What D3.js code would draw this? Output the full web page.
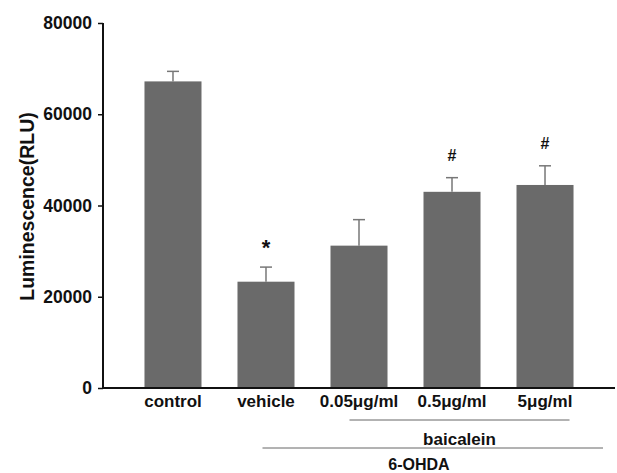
<!DOCTYPE html>
<html>
<head>
<meta charset="utf-8">
<script src="https://cdn.jsdelivr.net/npm/d3@7"></script>
<style>
  body { margin: 0; background: #fff; }
  text { font-family: "Liberation Sans", Arial, sans-serif; font-weight: bold; fill: #111; }
</style>
</head>
<body>
<div id="chart"></div>
<script>
// Data
var categories = ["control", "vehicle", "0.05\u03bcg/ml", "0.5\u03bcg/ml", "5\u03bcg/ml"];
var means = [67200, 23300, 31200, 43000, 44500];
var errors = [2200, 3200, 5700, 3100, 4200];
var marks = ["", "*", "", "#", "#"];
var yTicks = [0, 20000, 40000, 60000, 80000];

// Margin conventions
var margin = {top: 23, right: 2, bottom: 85, left: 103};
var totalWidth = 617, totalHeight = 473;
var width = totalWidth - margin.left - margin.right,
    height = totalHeight - margin.top - margin.bottom;

var svg = d3.select("#chart")
            .append("svg")
            .attr("width", totalWidth)
            .attr("height", totalHeight)
            .append("g")
            .attr("transform", "translate(" + margin.left + "," + margin.top + ")");

var xScale = d3.scaleBand()
  .domain(categories)
  .range([0, width])
  .paddingInner(0.387)
  .paddingOuter(0.446);

var yScale = d3.scaleLinear()
  .domain([0, 80000])
  .range([height, 0]);

// Bars
svg.selectAll("rect.bar")
   .data(categories)
   .enter()
   .append("rect")
   .attr("class", "bar")
   .attr("x", function(d) { return xScale(d); })
   .attr("y", function(d, i) { return yScale(means[i]); })
   .attr("width", xScale.bandwidth())
   .attr("height", function(d, i) { return height - yScale(means[i]); })
   .style("fill", "#6a6a6a");

// Error bars (upper only)
var err = svg.selectAll("g.err")
             .data(categories)
             .enter()
             .append("g")
             .attr("class", "err")
             .style("stroke", "#777")
             .style("stroke-width", 1.5);

err.append("line")
   .attr("x1", function(d) { return xScale(d) + xScale.bandwidth() / 2; })
   .attr("x2", function(d) { return xScale(d) + xScale.bandwidth() / 2; })
   .attr("y1", function(d, i) { return yScale(means[i]); })
   .attr("y2", function(d, i) { return yScale(means[i] + errors[i]); });

err.append("line")
   .attr("x1", function(d) { return xScale(d) + xScale.bandwidth() / 2 - 6; })
   .attr("x2", function(d) { return xScale(d) + xScale.bandwidth() / 2 + 6; })
   .attr("y1", function(d, i) { return yScale(means[i] + errors[i]); })
   .attr("y2", function(d, i) { return yScale(means[i] + errors[i]); });

// Significance marks
svg.selectAll("text.mark")
   .data(categories)
   .enter()
   .append("text")
   .attr("class", "mark")
   .attr("x", function(d) { return xScale(d) + xScale.bandwidth() / 2; })
   .attr("y", function(d, i) { return yScale(means[i] + errors[i]) - (marks[i] == "*" ? 12 : 17); })
   .attr("text-anchor", "middle")
   .style("font-size", function(d, i) { return marks[i] == "*" ? "22px" : "16px"; })
   .text(function(d, i) { return marks[i]; });

// Y axis
var yAxis = d3.axisLeft(yScale)
              .tickValues(yTicks)
              .tickSize(5)
              .tickPadding(6)
              .tickFormat(function(d) { return d; });

var yAxisGroup = svg.append("g")
                    .attr("class", "y axis")
                    .call(yAxis);
yAxisGroup.select(".domain").remove();
yAxisGroup.selectAll("line").style("stroke", "#111").style("stroke-width", 1.5);
yAxisGroup.selectAll("text").style("font-size", "17.5px").style("font-family", "Liberation Sans, Arial, sans-serif");

svg.append("line")
   .attr("x1", 0).attr("x2", 0)
   .attr("y1", 0).attr("y2", height)
   .style("stroke", "#111").style("stroke-width", 2);

svg.append("line")
   .attr("x1", 0).attr("x2", width)
   .attr("y1", height).attr("y2", height)
   .style("stroke", "#111").style("stroke-width", 2);

// Category labels
svg.selectAll("text.cat")
   .data(categories)
   .enter()
   .append("text")
   .attr("class", "cat")
   .attr("x", function(d) { return xScale(d) + xScale.bandwidth() / 2; })
   .attr("y", height + 19)
   .attr("text-anchor", "middle")
   .style("font-size", "17px")
   .text(function(d) { return d; });

// Group brackets
var baicaleinX1 = xScale(categories[2]) + 19,
    baicaleinX2 = xScale(categories[4]) + xScale.bandwidth() - 4;
svg.append("line")
   .attr("x1", baicaleinX1).attr("x2", baicaleinX2)
   .attr("y1", height + 32).attr("y2", height + 32)
   .style("stroke", "#666").style("stroke-width", 1);
svg.append("text")
   .attr("x", (baicaleinX1 + baicaleinX2) / 2)
   .attr("y", height + 57)
   .attr("text-anchor", "middle")
   .style("font-size", "17px")
   .text("baicalein");

var ohdaX1 = xScale(categories[1]) + 25,
    ohdaX2 = width - 12;
svg.append("line")
   .attr("x1", ohdaX1).attr("x2", ohdaX2)
   .attr("y1", height + 60).attr("y2", height + 60)
   .style("stroke", "#666").style("stroke-width", 1);
svg.append("text")
   .attr("x", xScale(categories[2]) + xScale.bandwidth() / 2 + 60)
   .attr("y", height + 82)
   .attr("text-anchor", "middle")
   .style("font-size", "16px")
   .text("6-OHDA");

// Y axis title
svg.append("text")
   .attr("transform", "translate(" + (-69) + "," + (height / 2 + 1) + ") rotate(-90)")
   .attr("text-anchor", "middle")
   .style("font-size", "19.5px")
   .text("Luminescence(RLU)");
</script>
</body>
</html>
